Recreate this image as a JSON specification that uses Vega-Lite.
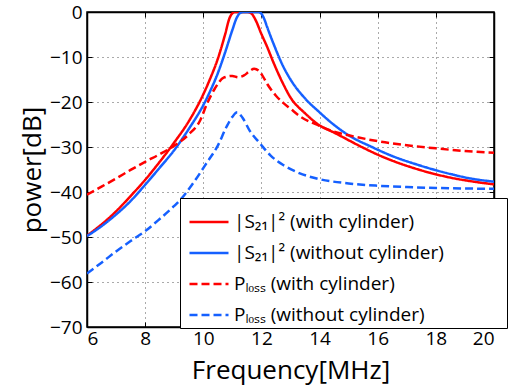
{
  "$schema": "https://vega.github.io/schema/vega-lite/v6.json",
  "width": 407,
  "height": 315,
  "autosize": {"type": "none"},
  "padding": {"left": 87, "top": 12, "right": 17, "bottom": 58},
  "background": "white",
  "datasets": {
    "curves": [
      {"s": "|S₂₁|² (with cylinder)", "f": 6, "p": -49.7},
      {"s": "|S₂₁|² (with cylinder)", "f": 6.5, "p": -47.2},
      {"s": "|S₂₁|² (with cylinder)", "f": 7, "p": -44.3},
      {"s": "|S₂₁|² (with cylinder)", "f": 7.5, "p": -40.9},
      {"s": "|S₂₁|² (with cylinder)", "f": 8, "p": -37.3},
      {"s": "|S₂₁|² (with cylinder)", "f": 8.5, "p": -33.3},
      {"s": "|S₂₁|² (with cylinder)", "f": 9, "p": -29.0},
      {"s": "|S₂₁|² (with cylinder)", "f": 9.5, "p": -24.3},
      {"s": "|S₂₁|² (with cylinder)", "f": 10, "p": -18.3},
      {"s": "|S₂₁|² (with cylinder)", "f": 10.25, "p": -14.6},
      {"s": "|S₂₁|² (with cylinder)", "f": 10.5, "p": -10.4},
      {"s": "|S₂₁|² (with cylinder)", "f": 10.75, "p": -5.0},
      {"s": "|S₂₁|² (with cylinder)", "f": 10.9, "p": -1.4},
      {"s": "|S₂₁|² (with cylinder)", "f": 11.0, "p": -0.3},
      {"s": "|S₂₁|² (with cylinder)", "f": 11.1, "p": 0},
      {"s": "|S₂₁|² (with cylinder)", "f": 11.5, "p": 0},
      {"s": "|S₂₁|² (with cylinder)", "f": 11.65, "p": -0.3},
      {"s": "|S₂₁|² (with cylinder)", "f": 11.8, "p": -1.8},
      {"s": "|S₂₁|² (with cylinder)", "f": 12.0, "p": -4.9},
      {"s": "|S₂₁|² (with cylinder)", "f": 12.2, "p": -7.8},
      {"s": "|S₂₁|² (with cylinder)", "f": 12.4, "p": -11.0},
      {"s": "|S₂₁|² (with cylinder)", "f": 12.75, "p": -16.0},
      {"s": "|S₂₁|² (with cylinder)", "f": 13.0, "p": -19.0},
      {"s": "|S₂₁|² (with cylinder)", "f": 13.5, "p": -22.5},
      {"s": "|S₂₁|² (with cylinder)", "f": 14.0, "p": -25.2},
      {"s": "|S₂₁|² (with cylinder)", "f": 14.5, "p": -26.8},
      {"s": "|S₂₁|² (with cylinder)", "f": 15.45, "p": -30.0},
      {"s": "|S₂₁|² (with cylinder)", "f": 16.0, "p": -31.7},
      {"s": "|S₂₁|² (with cylinder)", "f": 17.4, "p": -35.0},
      {"s": "|S₂₁|² (with cylinder)", "f": 18.5, "p": -36.8},
      {"s": "|S₂₁|² (with cylinder)", "f": 19.2, "p": -37.6},
      {"s": "|S₂₁|² (with cylinder)", "f": 20, "p": -38.3},

      {"s": "|S₂₁|² (without cylinder)", "f": 6, "p": -49.8},
      {"s": "|S₂₁|² (without cylinder)", "f": 6.5, "p": -47.6},
      {"s": "|S₂₁|² (without cylinder)", "f": 7, "p": -45.0},
      {"s": "|S₂₁|² (without cylinder)", "f": 7.5, "p": -42.0},
      {"s": "|S₂₁|² (without cylinder)", "f": 8, "p": -38.4},
      {"s": "|S₂₁|² (without cylinder)", "f": 8.5, "p": -34.6},
      {"s": "|S₂₁|² (without cylinder)", "f": 9, "p": -30.7},
      {"s": "|S₂₁|² (without cylinder)", "f": 9.5, "p": -26.0},
      {"s": "|S₂₁|² (without cylinder)", "f": 10, "p": -20.7},
      {"s": "|S₂₁|² (without cylinder)", "f": 10.25, "p": -17.4},
      {"s": "|S₂₁|² (without cylinder)", "f": 10.5, "p": -13.6},
      {"s": "|S₂₁|² (without cylinder)", "f": 10.75, "p": -9.0},
      {"s": "|S₂₁|² (without cylinder)", "f": 11.0, "p": -4.0},
      {"s": "|S₂₁|² (without cylinder)", "f": 11.15, "p": -1.3},
      {"s": "|S₂₁|² (without cylinder)", "f": 11.3, "p": -0.1},
      {"s": "|S₂₁|² (without cylinder)", "f": 11.4, "p": 0},
      {"s": "|S₂₁|² (without cylinder)", "f": 11.9, "p": 0},
      {"s": "|S₂₁|² (without cylinder)", "f": 12.0, "p": -0.4},
      {"s": "|S₂₁|² (without cylinder)", "f": 12.1, "p": -1.6},
      {"s": "|S₂₁|² (without cylinder)", "f": 12.2, "p": -3.4},
      {"s": "|S₂₁|² (without cylinder)", "f": 12.4, "p": -6.8},
      {"s": "|S₂₁|² (without cylinder)", "f": 12.75, "p": -12.1},
      {"s": "|S₂₁|² (without cylinder)", "f": 13.0, "p": -15.0},
      {"s": "|S₂₁|² (without cylinder)", "f": 13.5, "p": -19.2},
      {"s": "|S₂₁|² (without cylinder)", "f": 14.0, "p": -22.3},
      {"s": "|S₂₁|² (without cylinder)", "f": 14.5, "p": -25.1},
      {"s": "|S₂₁|² (without cylinder)", "f": 15.0, "p": -27.4},
      {"s": "|S₂₁|² (without cylinder)", "f": 15.8, "p": -30.0},
      {"s": "|S₂₁|² (without cylinder)", "f": 16.5, "p": -32.0},
      {"s": "|S₂₁|² (without cylinder)", "f": 17.4, "p": -34.0},
      {"s": "|S₂₁|² (without cylinder)", "f": 18.5, "p": -36.0},
      {"s": "|S₂₁|² (without cylinder)", "f": 19.2, "p": -37.0},
      {"s": "|S₂₁|² (without cylinder)", "f": 20, "p": -37.7},

      {"s": "Pₗₒₛₛ (with cylinder)", "f": 6, "p": -40.6},
      {"s": "Pₗₒₛₛ (with cylinder)", "f": 6.5, "p": -38.8},
      {"s": "Pₗₒₛₛ (with cylinder)", "f": 7, "p": -37.0},
      {"s": "Pₗₒₛₛ (with cylinder)", "f": 7.5, "p": -35.1},
      {"s": "Pₗₒₛₛ (with cylinder)", "f": 8, "p": -33.3},
      {"s": "Pₗₒₛₛ (with cylinder)", "f": 8.5, "p": -31.6},
      {"s": "Pₗₒₛₛ (with cylinder)", "f": 9, "p": -29.7},
      {"s": "Pₗₒₛₛ (with cylinder)", "f": 9.5, "p": -27.2},
      {"s": "Pₗₒₛₛ (with cylinder)", "f": 9.9, "p": -24.0},
      {"s": "Pₗₒₛₛ (with cylinder)", "f": 10.12, "p": -20.5},
      {"s": "Pₗₒₛₛ (with cylinder)", "f": 10.4, "p": -17.0},
      {"s": "Pₗₒₛₛ (with cylinder)", "f": 10.7, "p": -14.6},
      {"s": "Pₗₒₛₛ (with cylinder)", "f": 11.0, "p": -14.2},
      {"s": "Pₗₒₛₛ (with cylinder)", "f": 11.2, "p": -14.5},
      {"s": "Pₗₒₛₛ (with cylinder)", "f": 11.4, "p": -14.1},
      {"s": "Pₗₒₛₛ (with cylinder)", "f": 11.6, "p": -13.1},
      {"s": "Pₗₒₛₛ (with cylinder)", "f": 11.75, "p": -12.6},
      {"s": "Pₗₒₛₛ (with cylinder)", "f": 11.9, "p": -13.0},
      {"s": "Pₗₒₛₛ (with cylinder)", "f": 12.05, "p": -14.3},
      {"s": "Pₗₒₛₛ (with cylinder)", "f": 12.2, "p": -16.0},
      {"s": "Pₗₒₛₛ (with cylinder)", "f": 12.5, "p": -18.6},
      {"s": "Pₗₒₛₛ (with cylinder)", "f": 12.75, "p": -20.2},
      {"s": "Pₗₒₛₛ (with cylinder)", "f": 13.0, "p": -21.5},
      {"s": "Pₗₒₛₛ (with cylinder)", "f": 13.33, "p": -23.2},
      {"s": "Pₗₒₛₛ (with cylinder)", "f": 14.0, "p": -25.3},
      {"s": "Pₗₒₛₛ (with cylinder)", "f": 14.5, "p": -26.6},
      {"s": "Pₗₒₛₛ (with cylinder)", "f": 15.0, "p": -27.4},
      {"s": "Pₗₒₛₛ (with cylinder)", "f": 16.0, "p": -28.7},
      {"s": "Pₗₒₛₛ (with cylinder)", "f": 17.0, "p": -29.6},
      {"s": "Pₗₒₛₛ (with cylinder)", "f": 18.0, "p": -30.3},
      {"s": "Pₗₒₛₛ (with cylinder)", "f": 19.0, "p": -30.9},
      {"s": "Pₗₒₛₛ (with cylinder)", "f": 20, "p": -31.3},

      {"s": "Pₗₒₛₛ (without cylinder)", "f": 6, "p": -58.1},
      {"s": "Pₗₒₛₛ (without cylinder)", "f": 6.5, "p": -55.7},
      {"s": "Pₗₒₛₛ (without cylinder)", "f": 7, "p": -53.2},
      {"s": "Pₗₒₛₛ (without cylinder)", "f": 7.5, "p": -50.9},
      {"s": "Pₗₒₛₛ (without cylinder)", "f": 8, "p": -48.7},
      {"s": "Pₗₒₛₛ (without cylinder)", "f": 8.5, "p": -46.0},
      {"s": "Pₗₒₛₛ (without cylinder)", "f": 9, "p": -43.1},
      {"s": "Pₗₒₛₛ (without cylinder)", "f": 9.2, "p": -41.8},
      {"s": "Pₗₒₛₛ (without cylinder)", "f": 9.6, "p": -38.5},
      {"s": "Pₗₒₛₛ (without cylinder)", "f": 10.12, "p": -33.5},
      {"s": "Pₗₒₛₛ (without cylinder)", "f": 10.5, "p": -29.7},
      {"s": "Pₗₒₛₛ (without cylinder)", "f": 10.8, "p": -25.5},
      {"s": "Pₗₒₛₛ (without cylinder)", "f": 11.0, "p": -23.3},
      {"s": "Pₗₒₛₛ (without cylinder)", "f": 11.17, "p": -22.3},
      {"s": "Pₗₒₛₛ (without cylinder)", "f": 11.35, "p": -23.5},
      {"s": "Pₗₒₛₛ (without cylinder)", "f": 11.6, "p": -26.4},
      {"s": "Pₗₒₛₛ (without cylinder)", "f": 11.95, "p": -29.2},
      {"s": "Pₗₒₛₛ (without cylinder)", "f": 12.3, "p": -31.8},
      {"s": "Pₗₒₛₛ (without cylinder)", "f": 12.75, "p": -34.0},
      {"s": "Pₗₒₛₛ (without cylinder)", "f": 13.3, "p": -35.8},
      {"s": "Pₗₒₛₛ (without cylinder)", "f": 13.9, "p": -37.0},
      {"s": "Pₗₒₛₛ (without cylinder)", "f": 15, "p": -38.1},
      {"s": "Pₗₒₛₛ (without cylinder)", "f": 16, "p": -38.6},
      {"s": "Pₗₒₛₛ (without cylinder)", "f": 17, "p": -38.9},
      {"s": "Pₗₒₛₛ (without cylinder)", "f": 18, "p": -39.1},
      {"s": "Pₗₒₛₛ (without cylinder)", "f": 20, "p": -39.3}
    ]
  },
  "data": {"name": "curves"},
  "layer": [
    {
      "mark": {"type": "line", "strokeWidth": 2.5, "interpolate": "monotone", "clip": true},
      "encoding": {
        "x": {
          "field": "f", "type": "quantitative",
          "scale": {"domain": [6, 20], "nice": false},
          "axis": {"values": [6, 8, 10, 12, 14, 16, 18, 20], "title": "Frequency[MHz]", "titlePadding": 9, "labelPadding": 7}
        },
        "y": {
          "field": "p", "type": "quantitative",
          "scale": {"domain": [-70, 0], "nice": false},
          "axis": {"values": [-70, -60, -50, -40, -30, -20, -10, 0], "title": "power[dB]", "titlePadding": 4}
        },
        "color": {
          "field": "s", "type": "nominal",
          "scale": {
            "domain": ["|S₂₁|² (with cylinder)", "|S₂₁|² (without cylinder)", "Pₗₒₛₛ (with cylinder)", "Pₗₒₛₛ (without cylinder)"],
            "range": ["#ff0000", "#1560ff", "#ff0000", "#1560ff"]
          },
          "legend": {
            "orient": "none", "legendX": 93, "legendY": 186,
            "title": "\u00a0", "titleOrient": "right", "titlePadding": 60, "titleFontSize": 8,
            "fillColor": "white", "strokeColor": "black", "padding": 3,
            "symbolType": "stroke", "symbolSize": 1521, "symbolStrokeWidth": 2.5, "symbolOffset": 5,
            "labelFontSize": 19, "labelColor": "black", "labelOffset": 4,
            "rowPadding": -4, "labelLimit": 0
          }
        },
        "strokeDash": {
          "field": "s", "type": "nominal",
          "scale": {
            "domain": ["|S₂₁|² (with cylinder)", "|S₂₁|² (without cylinder)", "Pₗₒₛₛ (with cylinder)", "Pₗₒₛₛ (without cylinder)"],
            "range": [[1, 0], [1, 0], [8, 4], [8, 4]]
          },
          "legend": null
        }
      }
    },
    {
      "mark": {"type": "line", "opacity": 0},
      "encoding": {
        "x": {"field": "f", "type": "quantitative", "axis": {"orient": "top", "values": [6, 8, 10, 12, 14, 16, 18, 20], "labels": false, "grid": false, "title": null}},
        "y": {"field": "p", "type": "quantitative", "axis": {"orient": "right", "values": [-70, -60, -50, -40, -30, -20, -10, 0], "labels": false, "grid": false, "title": null}},
        "detail": {"field": "s"}
      }
    }
  ],
  "resolve": {"axis": {"x": "independent", "y": "independent"}},
  "config": {
    "font": "Open Sans",
    "view": {"stroke": "black", "strokeWidth": 1.5},
    "axis": {
      "labelFontSize": 19, "labelColor": "black", "labelFont": "Open Sans",
      "titleFontSize": 26, "titleFontWeight": "normal", "titleColor": "black", "titleFont": "Open Sans",
      "domainColor": "black", "domainWidth": 1.5,
      "tickColor": "black", "tickSize": -5, "tickWidth": 1, "labelPadding": 10,
      "grid": true, "gridColor": "#555555", "gridDash": [1, 4], "gridWidth": 1
    },
    "legend": {"labelFont": "Open Sans"}
  }
}
